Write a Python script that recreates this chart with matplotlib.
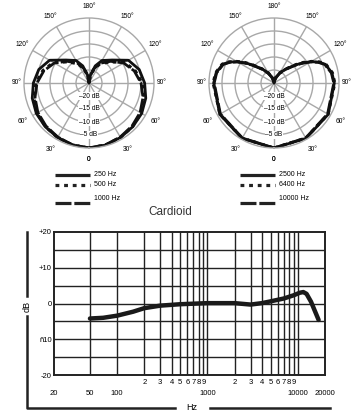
import numpy as np
import matplotlib; matplotlib.use("Agg")
import matplotlib.pyplot as plt

plt.rcParams['font.family'] = ['Liberation Sans', 'DejaVu Sans']

# ---- polar data (half pattern, degrees from front; mirrored for the other side) ----
ANG_L = [0, 15, 30, 45, 60, 75, 90, 105, 120, 135, 150, 160, 170, 180]
DB_250 = [0, -0.3, -0.8, -1.2, -1.6, -2.4, -3.6, -5.0, -7.5, -12.5, -15.0, -18.0, -22.0, -25.0]
DB_500 = [0, -0.3, -0.8, -1.3, -1.9, -3.0, -4.6, -6.6, -9.2, -13.5, -16.5, -19.0, -22.0, -25.0]
DB_1000 = [0, -0.4, -1.0, -1.6, -2.3, -3.5, -5.0, -7.0, -9.6, -13.2, -16.2, -19.0, -22.0, -25.0]

ANG_R = [0, 30, 60, 90, 100, 110, 115, 120, 125, 130, 140, 150, 165, 180]
DB_2500 = [0, -0.4, -0.9, -1.8, -2.4, -4.0, -6.0, -8.6, -11.5, -14.2, -18.0, -20.5, -23.0, -25.0]
DB_6400 = [0, -0.5, -1.0, -1.6, -2.2, -3.8, -5.8, -8.4, -11.2, -14.0, -18.0, -20.5, -23.0, -25.0]
DB_10000 = [0, -0.6, -1.2, -2.0, -2.6, -4.2, -6.2, -8.8, -11.8, -14.5, -18.2, -20.8, -23.2, -25.0]

# ---- frequency response ----
FREQ = [50, 70, 100, 150, 200, 300, 500, 1000, 2000, 3000, 4000, 5000, 7000, 9000,
        10500, 11500, 12500, 14000, 17000]
RESP = [-4.2, -4.0, -3.4, -2.3, -1.3, -0.6, -0.2, 0.1, 0.1, -0.3, 0.1, 0.6, 1.4, 2.3,
        3.0, 3.2, 2.7, 0.5, -4.6]
XGRID = [50, 100, 200, 300, 400, 500, 600, 700, 800, 900, 1000,
         2000, 3000, 4000, 5000, 6000, 7000, 8000, 9000, 10000]
SUB_TICKS = [200, 300, 400, 500, 600, 700, 800, 900, 2000, 3000, 4000, 5000, 6000, 7000, 8000, 9000]
SUB_LABELS = ["2", "3", "4", "5", "6", "7", "8", "9", "2", "3", "4", "5", "6", "7", "8", "9"]
MAIN_TICKS = [20, 50, 100, 1000, 10000, 20000]
MAIN_LABELS = ["20", "50", "100", "1000", "10000", "20000"]
YTICKS = [20, 10, 0, -10, -20]
YLABELS = ["+20", "+10", "0", "ñ10", "-20"]

W, H = 352, 413
fig = plt.figure(figsize=(W / 100, H / 100), dpi=100)
GRID = "#a8a8a8"
STYLES = [dict(ls="-", lw=2.0), dict(ls=(0, (1.2, 1.5)), lw=2.2), dict(ls=(0, (5, 0.9)), lw=2.0)]


def polar(cx, cy, ang, series):
    R = 65
    ax = fig.add_axes([(cx - R) / W, 1 - (cy + R) / H, 2 * R / W, 2 * R / H], projection="polar")
    ax.set_theta_zero_location("S")
    ax.set_ylim(0, 25)
    ax.set_xticks(np.deg2rad(np.arange(0, 360, 30)))
    ax.set_xticklabels([])
    ax.set_yticks([5, 10, 15, 20])
    ax.set_yticklabels([])
    ax.grid(True, color=GRID, lw=1.0)
    ax.spines["polar"].set_color(GRID)
    ax.spines["polar"].set_linewidth(1.0)
    a = np.array(ang, float)
    th = np.deg2rad(np.concatenate([a, 360 - a[::-1]]))
    for db, st in zip(series, STYLES):
        d = np.array(db, float)
        r = np.clip(np.concatenate([d, d[::-1]]) + 25, 0, 25)
        ax.plot(th, r, color="#111111", solid_capstyle="butt", **st)
    for k in range(0, 181, 30):
        lab = "0" if k == 0 else f"{k}°"
        rr = 27.9 if k == 90 else 29.5
        for t in {k, 360 - k}:
            ax.text(np.deg2rad(t), rr, lab, ha="center", va="center", fontsize=4.8,
                    clip_on=False)
    for v in [-20, -15, -10, -5]:
        ax.text(0, v + 25, f"–{-v} dB", ha="center", va="center", fontsize=4.8,
                bbox=dict(fc="white", ec="none", pad=0.3))
    return ax


polar(89, 83, ANG_L, [DB_250, DB_500, DB_1000])
polar(274, 83, ANG_R, [DB_2500, DB_6400, DB_10000])

# ---- response chart ----
x0, x1, y0, y1 = 54, 325, 232, 375
ax = fig.add_axes([x0 / W, 1 - y1 / H, (x1 - x0) / W, (y1 - y0) / H])
ax.set_xscale("log")
ax.set_xlim(20, 20000)
ax.set_ylim(-20, 20)
for f in XGRID:
    ax.axvline(f, color="#222222", lw=1.0)
for v in range(-15, 20, 5):
    ax.axhline(v, color="#222222", lw=1.0)
ax.plot(FREQ, RESP, color="#1a1a1a", lw=3.2, solid_capstyle="round")
for s in ax.spines.values():
    s.set_linewidth(1.4)
    s.set_color("#222222")
ax.set_xticks([])
ax.set_xticks([], minor=True)
ax.set_yticks(YTICKS)
ax.set_yticklabels(YLABELS, fontsize=5.5)
ax.tick_params(axis="y", length=0, pad=1.5)
for f, lab in zip(SUB_TICKS, SUB_LABELS):
    ax.text(f, -21.2, lab, ha="center", va="top", fontsize=5.5)
for f, lab in zip(MAIN_TICKS, MAIN_LABELS):
    ax.text(f, -24.2, lab, ha="center", va="top", fontsize=5.5)

# ---- overlay: legends, title, axis brackets ----
ov = fig.add_axes([0, 0, 1, 1])
ov.set_xlim(0, W)
ov.set_ylim(H, 0)
ov.axis("off")
leg_l = ["250 Hz", "500 Hz", "1000 Hz"]
leg_r = ["2500 Hz", "6400 Hz", "10000 Hz"]
for lx, labs in [(55, leg_l), (240, leg_r)]:
    for (ly, ty), lab, st in zip([(175, 175), (185, 185), (203, 198)], labs, STYLES):
        ov.plot([lx, lx + 35], [ly, ly], color="#222222", solid_capstyle="butt",
                **dict(st, lw=2.3))
        ov.text(lx + 39, ty, lab, ha="left", va="center", fontsize=5)
ov.text(170, 212, "Cardioid", ha="center", va="center", fontsize=8.5, color="#333333")
ov.plot([27, 27], [232, 296], color="#222222", lw=1.8)
ov.plot([27, 27, 175], [316, 408, 408], color="#222222", lw=1.8)
ov.plot([210, 330], [408, 408], color="#222222", lw=1.8)
ov.text(27, 306, "dB", rotation=90, ha="center", va="center", fontsize=6.5)
ov.text(192, 407, "Hz", ha="center", va="center", fontsize=6.5)

fig.savefig("out.png", dpi=100)
